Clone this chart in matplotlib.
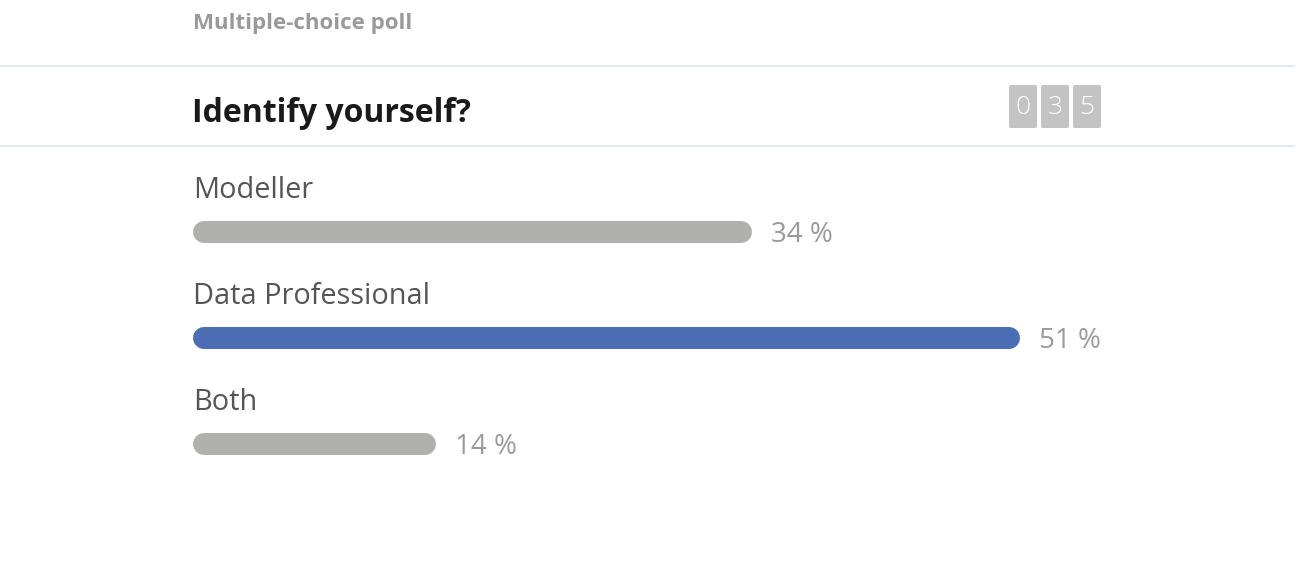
import numpy as np
import matplotlib.pyplot as plt
from matplotlib.patches import FancyBboxPatch

plt.rcParams['font.family'] = ['Open Sans', 'DejaVu Sans']

# poll data
subtitle = "Multiple-choice poll"
question = "Identify yourself?"
vote_count = "035"
options = ["Modeller", "Data Professional", "Both"]
percents = [34, 51, 14]
highlight = "Data Professional"

W, H = 1301, 578
fig = plt.figure(figsize=(W / 100, H / 100), dpi=100)
fig.patch.set_facecolor('white')

# background axes in pixel coords for the header
bg = fig.add_axes([0, 0, 1, 1])
bg.set_xlim(0, W)
bg.set_ylim(H, 0)
bg.axis('off')

bg.text(193, 23, subtitle, fontsize=16, fontweight='bold', color='#9a9a9a',
        va='center', ha='left')
bg.plot([0, 1294], [66, 66], color='#e2e9ef', lw=1.5)
bg.plot([0, 1294], [146, 146], color='#e2e9ef', lw=1.5)
bg.text(192, 113, question, fontsize=23, fontweight='bold', color='#1a1a1a',
        va='center', ha='left')

# counter boxes
box_x = [1009, 1041, 1073]
for bx, d in zip(box_x, vote_count):
    bg.add_patch(FancyBboxPatch((bx, 85), 28, 43, boxstyle='round,pad=0,rounding_size=2',
                                facecolor='#c3c3c3', edgecolor='none'))
    bg.text(bx + 14, 107, d, fontsize=19, color='white', ha='center', va='center',
            fontweight='light')

# bars axes: 0 % at x=204 px, 15.78 px per percent, rows 106 px apart starting y=232
px_per_pct = 15.78
x0 = 204
xmax = 60
ax = fig.add_axes([x0 / W, 0, xmax * px_per_pct / W, 1])
ax.set_xlim(0, xmax)
ax.set_ylim((H - 232) / 106, -232 / 106)
ax.axis('off')

bar_lw = 22 * 0.72
for i, (name, p) in enumerate(zip(options, percents)):
    col = '#4a6db4' if name == highlight else '#b0b0ae'
    ax.plot([0, p], [i, i], color=col, lw=bar_lw, solid_capstyle='round', clip_on=False)
    ax.annotate(name, (0, i), xytext=(-8, 30), textcoords='offset points',
                fontsize=20.8, color='#555555', ha='left', va='center')
    ax.annotate(f"{p} %", (p, i), xytext=(22, -2.5), textcoords='offset points',
                fontsize=20, color='#9a9a9a', ha='left', va='center')

fig.savefig('out.png', dpi=100)
